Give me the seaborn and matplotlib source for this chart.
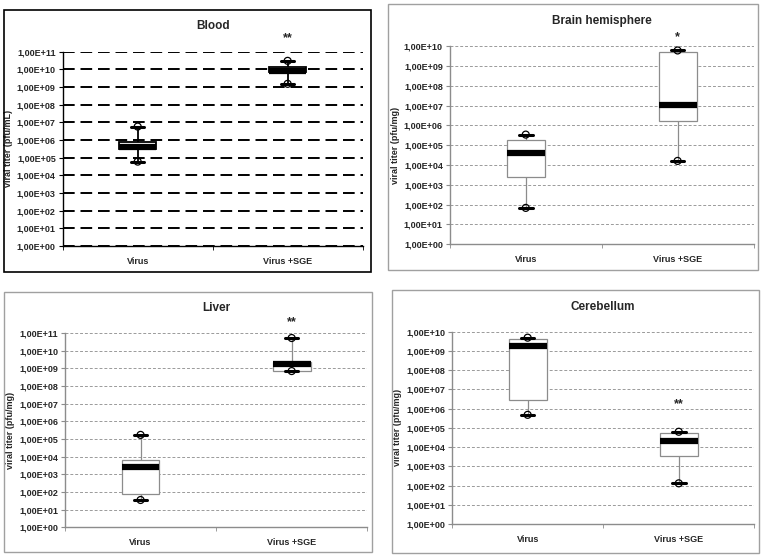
import numpy as np
import pandas as pd
import matplotlib
matplotlib.use("Agg")
import matplotlib.pyplot as plt
import seaborn as sns
from matplotlib.patches import Rectangle
from matplotlib.ticker import LogLocator, FuncFormatter, NullLocator, FixedLocator

groups = ["Virus", "Virus +SGE"]

# five-number summaries: min, q1, median, q3, max
blood_virus = [5.9e4, 3.0e5, 4.2e5, 7.4e5, 5.7e6]
blood_sge = [1.5e9, 6.8e9, 7.7e9, 1.4e10, 3.0e10]
brain_virus = [6.8e1, 2.6e3, 4.0e4, 1.8e5, 3.4e5]
brain_sge = [1.6e4, 1.7e6, 1.1e7, 5.0e9, 6.0e9]
liver_virus = [3.5e1, 7.4e1, 2.7e3, 6.2e3, 1.7e5]
liver_sge = [7.0e8, 7.0e8, 1.8e9, 2.4e9, 5.2e10]
cereb_virus = [4.8e5, 3.0e6, 1.9e9, 4.1e9, 5.0e9]
cereb_sge = [1.3e2, 3.6e3, 2.1e4, 5.7e4, 6.3e4]

titles = ["Blood", "Brain hemisphere", "Liver", "Cerebellum"]
ylabels = ["viral titer (pfu/mL)", "viral titer (pfu/mg)",
           "viral titer (pfu/mg)", "viral titer (pfu/mg)"]
top_exp = [11, 10, 11, 10]
stars = ["**", "*", "**", "**"]


def long_df(virus, sge):
    return pd.DataFrame({
        "group": [groups[0]] * len(virus) + [groups[1]] * len(sge),
        "titer": list(virus) + list(sge),
    })


def sci_fmt(v, pos):
    return "1,00E+%02d" % int(round(np.log10(v)))


sns.set_style("white")
plt.rcParams["font.family"] = ["Liberation Sans", "DejaVu Sans"]
plt.rcParams["font.weight"] = "bold"

fig = plt.figure(figsize=(7.65, 5.55), dpi=100)

frames = [(0.005, 0.510, 0.480, 0.472), (0.507, 0.513, 0.484, 0.479),
          (0.005, 0.005, 0.481, 0.469), (0.512, 0.004, 0.480, 0.474)]
boxes = [(0.082, 0.557, 0.392, 0.350), (0.588, 0.560, 0.397, 0.357),
         (0.085, 0.050, 0.395, 0.350), (0.591, 0.056, 0.395, 0.346)]
star_y = [1.07, 1.045, 1.057, 0.625]
panels = [(blood_virus, blood_sge), (brain_virus, brain_sge),
          (liver_virus, liver_sge), (cereb_virus, cereb_sge)]

for i, (virus, sge) in enumerate(panels):
    blood = i == 0
    edge = "black" if blood else "#8c8c8c"
    fig.add_artist(Rectangle(frames[i][:2], frames[i][2], frames[i][3],
                             transform=fig.transFigure, fill=False,
                             edgecolor="black" if blood else "#a0a0a0",
                             lw=1.2 if blood else 1.0))
    ax = fig.add_axes(boxes[i])
    df = long_df(virus, sge)
    sns.boxplot(data=df, x="group", y="titer", order=groups, log_scale=True,
                whis=(0, 100), width=0.25, color="white", saturation=1,
                linecolor=edge, linewidth=1.3 if blood else 0.9,
                medianprops=dict(color="black", lw=4.5, solid_capstyle="butt"),
                capprops=dict(color="black", lw=2.2),
                whiskerprops=dict(color=edge, lw=1.3 if blood else 0.9),
                capwidths=0.09, showfliers=False, ax=ax)
    ends = pd.DataFrame({"group": groups * 2,
                         "titer": [virus[0], sge[0], virus[-1], sge[-1]]})
    sns.stripplot(data=ends, x="group", y="titer", order=groups, jitter=False,
                  log_scale=True, color="none", edgecolor="black",
                  linewidth=0.9, size=5, ax=ax, zorder=5)

    ax.set_xlim(-0.5, 1.5)
    ax.set_ylim(1, 10 ** top_exp[i])
    ax.yaxis.set_major_locator(LogLocator(base=10, numticks=20))
    ax.yaxis.set_minor_locator(NullLocator())
    ax.yaxis.set_major_formatter(FuncFormatter(sci_fmt))
    ax.xaxis.set_minor_locator(FixedLocator([-0.5, 0.5, 1.5]))
    ax.tick_params(axis="x", which="major", length=0, labelsize=6.5, pad=8)
    ax.tick_params(axis="x", which="minor", length=3, color=edge,
                   direction="out", bottom=True)
    ax.tick_params(axis="y", length=3, color=edge, direction="out", left=True,
                   labelsize=6.5, pad=2)
    for lab in ax.get_xticklabels() + ax.get_yticklabels():
        lab.set_fontweight("bold")

    ax.set_axisbelow(True)
    if blood:
        ax.grid(axis="y", color="black", lw=1.4, ls=(0, (6, 3)))
    else:
        ax.grid(axis="y", color="#9a9a9a", lw=0.7, ls=(0, (3, 2)))
    ax.grid(axis="x", visible=False)
    # no dashed line on top of the x axis itself
    ax.get_ygridlines()[0].set_visible(False)
    for side in ["top", "right"]:
        ax.spines[side].set_visible(False)
    for side in ["left", "bottom"]:
        ax.spines[side].set_color(edge)
        ax.spines[side].set_linewidth(1.0)

    ax.set_xlabel("")
    ax.set_ylabel(ylabels[i], fontsize=6.5, fontweight="bold", labelpad=3)
    ax.set_title(titles[i], fontsize=8.5, fontweight="bold", pad=16)
    ax.text(1, star_y[i], stars[i], transform=ax.get_xaxis_transform(),
            ha="center", va="center", fontsize=9, fontweight="bold")

fig.savefig("out.png", dpi=100)
